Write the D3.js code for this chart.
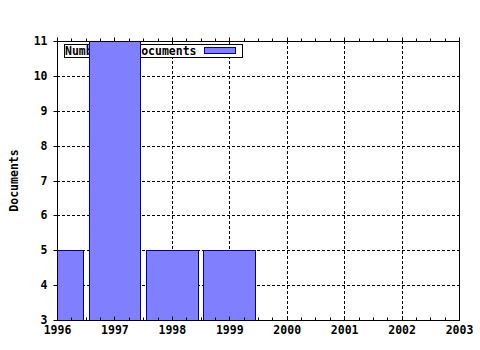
<!DOCTYPE html>
<html>
<head>
<meta charset="utf-8">
<script src="https://cdn.jsdelivr.net/npm/d3@7"></script>
<style>
body { margin: 0; background: #fff; }
text { font-family: "DejaVu Sans Mono", monospace; font-weight: bold; font-size: 11.5px; }
</style>
</head>
<body>
<div id="chart"></div>
<script>
let years = [1996, 1997, 1998, 1999];
let docs = [5, 11, 5, 5];
let xTicks = [1996, 1997, 1998, 1999, 2000, 2001, 2002, 2003];
let yTicks = [3, 4, 5, 6, 7, 8, 9, 10, 11];
let seriesName = "Number of documents";

let W = 480, H = 350;
let pLeft = 57, pRight = 459, pTop = 41, pBottom = 320;

let svg = d3.select("#chart").append("svg")
	.attr("width", W)
	.attr("height", H);

let x = d3.scaleLinear().domain([1996, 2003]).range([pLeft, pRight]);
let y = d3.scaleLinear().domain([3, 11]).range([pBottom, pTop]);

// grid
svg.append("g").selectAll("line")
	.data(xTicks.slice(1, -1))
	.enter().append("line")
	.attr("x1", d => Math.round(x(d)) + 0.5).attr("x2", d => Math.round(x(d)) + 0.5)
	.attr("y1", pTop).attr("y2", pBottom)
	.attr("stroke", "#000")
	.attr("stroke-dasharray", "3,2");
svg.append("g").selectAll("line")
	.data(yTicks.slice(1, -1))
	.enter().append("line")
	.attr("x1", pLeft).attr("x2", pRight)
	.attr("y1", d => Math.round(y(d)) + 0.5).attr("y2", d => Math.round(y(d)) + 0.5)
	.attr("stroke", "#000")
	.attr("stroke-dasharray", "3,2");

// legend (drawn under the bars)
let lg = svg.append("g");
lg.append("rect")
	.attr("x", 64.5).attr("y", 44.5)
	.attr("width", 178).attr("height", 13)
	.attr("fill", "#fff").attr("stroke", "#000");
lg.append("text")
	.attr("x", 65).attr("y", 55)
	.text(seriesName);
lg.append("rect")
	.attr("x", 204.5).attr("y", 47.5)
	.attr("width", 31).attr("height", 6)
	.attr("fill", "#8080ff").attr("stroke", "#0000a0");

// bars
svg.append("clipPath").attr("id", "plot")
	.append("rect")
	.attr("x", pLeft).attr("y", pTop)
	.attr("width", pRight - pLeft).attr("height", pBottom - pTop);

svg.append("g").attr("clip-path", "url(#plot)")
	.selectAll("rect")
	.data(years)
	.enter().append("rect")
	.attr("x", d => Math.round(x(d - 0.45)) + 0.5)
	.attr("width", d => Math.round(x(d + 0.45)) - Math.round(x(d - 0.45)))
	.attr("y", (d, i) => Math.round(y(docs[i])) + 0.5)
	.attr("height", (d, i) => pBottom - Math.round(y(docs[i])))
	.attr("fill", "#8080ff")
	.attr("stroke", "#0000a0");

// axes
let xMinor = d3.range(0, 29).map(i => 1996 + i * 0.25);

let bottomAxis = svg.append("g").attr("transform", "translate(0," + (pBottom + 0.5) + ")");
bottomAxis.append("line")
	.attr("x1", pLeft).attr("x2", pRight + 1)
	.attr("stroke", "#000");
bottomAxis.selectAll("line.t")
	.data(xMinor)
	.enter().append("line")
	.attr("class", "t")
	.attr("x1", d => Math.round(x(d)) + 0.5).attr("x2", d => Math.round(x(d)) + 0.5)
	.attr("y1", 0).attr("y2", d => d % 1 === 0 ? -4 : -3)
	.attr("stroke", "#000");
bottomAxis.selectAll("text")
	.data(xTicks)
	.enter().append("text")
	.attr("x", d => x(d) + 0.5)
	.attr("y", 13)
	.attr("text-anchor", "middle")
	.text(d => d);

let topAxis = svg.append("g").attr("transform", "translate(0," + (pTop + 0.5) + ")");
topAxis.append("line")
	.attr("x1", pLeft).attr("x2", pRight + 1)
	.attr("stroke", "#000");
topAxis.selectAll("line.t")
	.data(xMinor)
	.enter().append("line")
	.attr("class", "t")
	.attr("x1", d => Math.round(x(d)) + 0.5).attr("x2", d => Math.round(x(d)) + 0.5)
	.attr("y1", 0).attr("y2", d => d % 1 === 0 ? -4 : -3)
	.attr("stroke", "#000");

let leftAxis = svg.append("g").attr("transform", "translate(" + (pLeft + 0.5) + ",0)");
leftAxis.append("line")
	.attr("y1", pTop).attr("y2", pBottom + 1)
	.attr("stroke", "#000");
leftAxis.selectAll("line.t")
	.data(yTicks)
	.enter().append("line")
	.attr("class", "t")
	.attr("x1", 0).attr("x2", -4)
	.attr("y1", d => Math.round(y(d)) + 0.5).attr("y2", d => Math.round(y(d)) + 0.5)
	.attr("stroke", "#000");
leftAxis.selectAll("text")
	.data(yTicks)
	.enter().append("text")
	.attr("x", -10)
	.attr("y", d => y(d) + 4)
	.attr("text-anchor", "end")
	.text(d => d);

svg.append("line")
	.attr("x1", pRight + 0.5).attr("x2", pRight + 0.5)
	.attr("y1", pTop).attr("y2", pBottom + 1)
	.attr("stroke", "#000");

svg.append("text")
	.attr("transform", "translate(18," + ((pTop + pBottom) / 2) + ") rotate(-90)")
	.attr("text-anchor", "middle")
	.text("Documents");
</script>
</body>
</html>
